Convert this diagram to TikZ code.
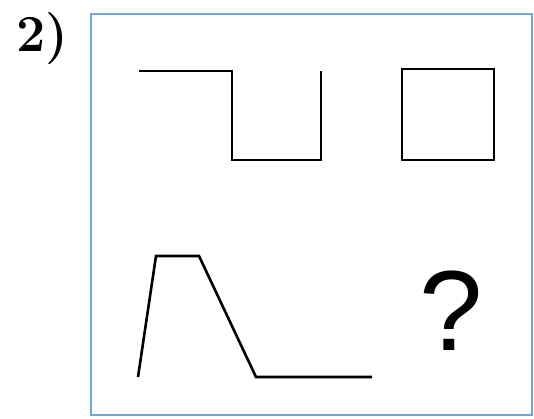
\documentclass[tikz,border=0pt]{standalone}
\usepackage{fontspec}
\newfontfamily\qfont{Liberation Sans}
\usetikzlibrary{positioning}
\definecolor{frameblue}{rgb}{0.45, 0.65, 0.85}

\begin{document}
\begin{tikzpicture}[x=1pt,y=-1pt,line width=2.6pt,line join=miter]
\useasboundingbox (0,0) rectangle (534,419);
% frame
\draw[frameblue,line width=1.8pt] (91,14) rectangle (532,415);
\node[font=\fontsize{52}{52}\selectfont\bfseries,anchor=base west] (num) at (12,52) {2)};
% first row
\draw (139,71) -- (232,71) -- (232,160) -- (321,160) -- (321,71);
\draw (402,69) rectangle (494,160);
% second row
\draw (138,377) -- (156,256) -- (199,256) -- (256,377) -- (372,377);
\node[font=\qfont\fontsize{114}{114}\selectfont,anchor=base] (ask) at (451,350) {?};
\end{tikzpicture}
\end{document}
